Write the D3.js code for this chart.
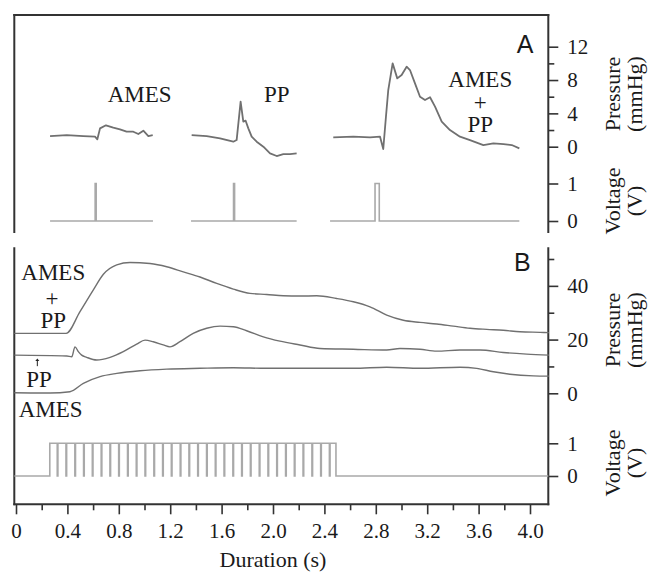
<!DOCTYPE html>
<html>
<head>
<meta charset="utf-8">
<script src="https://d3js.org/d3.v7.min.js"></script>
<style>
  body { margin: 0; background: #fff; }
  svg { display: block; }
  text { font-family: "Liberation Serif", "Times New Roman", serif; fill: #1a1a1a; }
</style>
</head>
<body>
<div id="chart"></div>
<script>
// ---- data (time in s, pressure in mmHg, voltage in V) ----

// panel A, three separate recordings laid side by side
const aAmesT = [0.265, 0.395, 0.524, 0.615, 0.633, 0.654, 0.7, 0.757, 0.809, 0.861, 0.913, 0.952, 0.991, 1.03, 1.064];
const aAmesP = [1.28, 1.4, 1.28, 1.2, 0.89, 2.2, 2.57, 2.28, 2.09, 1.8, 1.8, 1.52, 1.92, 1.28, 1.4];
const aPpT = [1.367, 1.484, 1.588, 1.691, 1.717, 1.748, 1.769, 1.787, 1.808, 1.834, 1.873, 1.925, 1.977, 2.029, 2.08, 2.132, 2.184];
const aPpP = [1.4, 1.28, 1.0, 0.6, 0.8, 5.4, 3.0, 3.12, 2.2, 1.2, 0.6, 0, -0.8, -1.12, -0.88, -0.88, -0.8];
const aBothT = [2.469, 2.625, 2.755, 2.833, 2.858, 2.879, 2.897, 2.931, 2.967, 3.001, 3.04, 3.066, 3.105, 3.144, 3.183, 3.222, 3.261, 3.313, 3.377, 3.455, 3.533, 3.637, 3.715, 3.794, 3.858, 3.917];
const aBothP = [1.13, 1.2, 1.13, 1.2, -0.28, 3.6, 6.8, 10.0, 8.2, 8.6, 9.6, 9.2, 7.6, 6.0, 5.6, 5.93, 4.8, 3.0, 2.0, 1.2, 0.8, 0.2, 0.4, 0.32, 0.2, -0.2];

// panel A stimulus: recording windows and single pulses
const aSegStart = [0.265, 1.362, 2.444];
const aSegEnd = [1.066, 2.184, 3.917];
const aPulseOn = [0.616, 1.693, 2.794];
const aPulseOff = [0.624, 1.701, 2.827];

// panel B pressure traces
const bBothT = [-0.013, 0.39, 0.498, 0.602, 0.68, 0.784, 0.887, 1.043, 1.173, 1.302, 1.432, 1.562, 1.691, 1.821, 1.951, 2.08, 2.21, 2.34, 2.495, 2.625, 2.755, 2.885, 3.014, 3.144, 3.274, 3.403, 3.533, 3.663, 3.792, 3.922, 4.078, 4.147];
const bBothP = [22.3, 22.3, 30.4, 38.5, 44.3, 47.8, 48.7, 48.3, 47.1, 45.2, 43.3, 40.9, 38.8, 37.2, 36.8, 36.3, 36.2, 36.3, 35.3, 34.1, 32.2, 29.1, 27.2, 26.4, 25.8, 25.0, 24.2, 23.8, 23.5, 22.9, 22.7, 22.6];
const bPpT = [-0.013, 0.395, 0.434, 0.459, 0.485, 0.511, 0.55, 0.628, 0.732, 0.835, 0.939, 1.004, 1.068, 1.146, 1.198, 1.276, 1.379, 1.484, 1.588, 1.691, 1.795, 1.925, 2.054, 2.21, 2.366, 2.625, 2.885, 2.988, 3.144, 3.274, 3.455, 3.611, 3.792, 3.974, 4.147];
const bPpP = [14.2, 13.9, 13.6, 17.3, 15.5, 14.2, 13.4, 12.4, 13.4, 15.5, 18.3, 19.8, 19.2, 18.0, 17.3, 19.2, 22.3, 24.2, 25.0, 24.8, 23.3, 21.0, 19.4, 18.0, 16.7, 16.4, 16.1, 16.7, 16.4, 15.7, 16.1, 16.1, 15.2, 14.6, 14.2];
const bAmesT = [-0.013, 0.265, 0.42, 0.524, 0.654, 0.784, 0.965, 1.173, 1.432, 1.691, 1.951, 2.21, 2.366, 2.625, 2.885, 3.144, 3.455, 3.585, 3.715, 3.844, 4.026, 4.147];
const bAmesP = [0.2, 0.1, 0.6, 3.7, 6.2, 7.4, 8.4, 9.0, 9.3, 9.5, 9.3, 9.3, 9.3, 9.3, 9.7, 9.3, 9.7, 9.3, 8.0, 7.1, 6.5, 6.4];

// panel B stimulus: train on/off and the short gaps between pulses
const bTrainOn = 0.263;
const bTrainOff = 2.49;
const bGaps = [0.321, 0.389, 0.458, 0.526, 0.594, 0.663, 0.731, 0.799, 0.868, 0.936, 1.004, 1.073,
  1.141, 1.209, 1.278, 1.346, 1.414, 1.483, 1.551, 1.619, 1.688, 1.756, 1.824, 1.893, 1.961, 2.029,
  2.098, 2.166, 2.234, 2.303, 2.371, 2.439];

// ticks
const xTicks = [0, 0.4, 0.8, 1.2, 1.6, 2.0, 2.4, 2.8, 3.2, 3.6, 4.0];
const xMinor = [0.2, 0.6, 1.0, 1.4, 1.8, 2.2, 2.6, 3.0, 3.4, 3.8];
const aPressTicks = [0, 4, 8, 12];
const aPressMinor = [2, 6, 10];
const bPressTicks = [0, 20, 40];
const bPressMinor = [10, 30, 50];
const voltTicks = [0, 1];

// ---- layout ----
const width = 648, height = 575;
const frame = { left: 14.3, right: 548.3, aTop: 15, aBottom: 232, bTop: 248.3, bBottom: 504.3 };
const frameColor = '#333';
const traceColor = '#707070';
const stimColor = '#a9a9a9';

const svg = d3.select('#chart').append('svg')
  .attr('width', width)
  .attr('height', height);

// scales
const x = d3.scaleLinear().domain([0, 4]).range([16, 530]);
const yA = d3.scaleLinear().domain([0, 12]).range([146.7, 46.7]);
const vA = d3.scaleLinear().domain([0, 1]).range([221, 183.5]);
const yB = d3.scaleLinear().domain([0, 50]).range([393.3, 259]);
const vB = d3.scaleLinear().domain([0, 1]).range([476, 443.3]);

// frame lines
const frameLines = [
  [frame.left, frame.aTop, frame.right, frame.aTop],
  [frame.left, frame.aTop, frame.left, frame.aBottom],
  [frame.right, frame.aTop, frame.right, frame.aBottom],
  [frame.left, frame.bTop, frame.left, frame.bBottom],
  [frame.right, frame.bTop, frame.right, frame.bBottom],
  [frame.left, frame.bBottom, frame.right, frame.bBottom]
];
svg.append('g').selectAll('line')
  .data(frameLines)
  .join('line')
  .attr('x1', d => d[0]).attr('y1', d => d[1])
  .attr('x2', d => d[2]).attr('y2', d => d[3])
  .attr('stroke', frameColor)
  .attr('stroke-width', 2)
  .attr('stroke-linecap', 'square');

// right side axes
function rightAxis(scale, major, minor) {
  const g = svg.append('g').attr('transform', `translate(${frame.right},0)`);
  if (minor) {
    g.append('g').call(d3.axisRight(scale).tickValues(minor).tickSize(6).tickFormat(''));
  }
  g.append('g').call(d3.axisRight(scale).tickValues(major).tickSize(10).tickPadding(9).tickFormat(d3.format('d')));
  g.selectAll('.domain').remove();
  g.selectAll('line').attr('stroke', frameColor).attr('stroke-width', 1.6);
  g.selectAll('text')
    .attr('fill', '#1a1a1a')
    .style('font-family', '"Liberation Serif", serif')
    .style('font-size', '21px');
}
rightAxis(yA, aPressTicks, aPressMinor);
rightAxis(vA, voltTicks);
rightAxis(yB, bPressTicks, bPressMinor);
rightAxis(vB, voltTicks);

// bottom axis
const xg = svg.append('g').attr('transform', `translate(0,${frame.bBottom})`);
xg.append('g').call(d3.axisBottom(x).tickValues(xMinor).tickSize(6).tickFormat(''));
xg.append('g').call(d3.axisBottom(x).tickValues(xTicks).tickSize(10).tickPadding(9)
  .tickFormat(d => d === 0 ? '0' : d3.format('.1f')(d)));
xg.selectAll('.domain').remove();
xg.selectAll('line').attr('stroke', frameColor).attr('stroke-width', 1.6);
xg.selectAll('text')
  .attr('fill', '#1a1a1a')
  .style('font-family', '"Liberation Serif", serif')
  .style('font-size', '21px');

svg.append('text')
  .attr('x', x(2.0))
  .attr('y', 567)
  .attr('text-anchor', 'middle')
  .style('font-size', '22px')
  .text('Duration (s)');

// rotated axis titles
function sideTitle(cy, lines) {
  svg.append('text')
    .attr('transform', `translate(620,${cy}) rotate(-90)`)
    .attr('text-anchor', 'middle')
    .style('font-size', '22px')
    .text(lines[0]);
  svg.append('text')
    .attr('transform', `translate(642,${cy}) rotate(-90)`)
    .attr('text-anchor', 'middle')
    .style('font-size', '22px')
    .text(lines[1]);
}
sideTitle(94, ['Pressure', '(mmHg)']);
sideTitle(201, ['Voltage', '(V)']);
sideTitle(330, ['Pressure', '(mmHg)']);
sideTitle(463, ['Voltage', '(V)']);

// panel letters
svg.append('text')
  .attr('x', x(4.026)).attr('y', yA(11.2))
  .attr('text-anchor', 'end')
  .style('font-family', '"Liberation Sans", Arial, sans-serif')
  .style('font-size', '25px')
  .text('A');
svg.append('text')
  .attr('x', x(4.005)).attr('y', yB(45.6))
  .attr('text-anchor', 'end')
  .style('font-family', '"Liberation Sans", Arial, sans-serif')
  .style('font-size', '25px')
  .text('B');

// ---- pressure traces ----
function trace(ts, ps, yScale, curve, w) {
  const pts = ts.map((t, i) => [t, ps[i]]);
  svg.append('path')
    .datum(pts)
    .attr('fill', 'none')
    .attr('stroke', traceColor)
    .attr('stroke-width', w)
    .attr('stroke-linejoin', 'round')
    .attr('d', d3.line().x(d => x(d[0])).y(d => yScale(d[1])).curve(curve));
}
trace(aAmesT, aAmesP, yA, d3.curveLinear, 1.8);
trace(aPpT, aPpP, yA, d3.curveLinear, 1.8);
trace(aBothT, aBothP, yA, d3.curveLinear, 1.8);
trace(bBothT, bBothP, yB, d3.curveMonotoneX, 1.4);
trace(bPpT, bPpP, yB, d3.curveMonotoneX, 1.4);
trace(bAmesT, bAmesP, yB, d3.curveMonotoneX, 1.4);

// ---- stimulus traces ----
const stimLine = (vScale) => d3.line().x(d => x(d[0])).y(d => vScale(d[1]));

aSegStart.forEach((s, i) => {
  const pts = [[s, 0], [aPulseOn[i], 0], [aPulseOn[i], 1], [aPulseOff[i], 1], [aPulseOff[i], 0], [aSegEnd[i], 0]];
  svg.append('path')
    .datum(pts)
    .attr('fill', 'none')
    .attr('stroke', stimColor)
    .attr('stroke-width', 1.6)
    .attr('d', stimLine(vA));
});

const trainPts = [[-0.013, 0], [bTrainOn, 0], [bTrainOn, 1]];
bGaps.forEach(g => {
  trainPts.push([g, 1], [g, 0], [g + 0.005, 0], [g + 0.005, 1]);
});
trainPts.push([bTrainOff, 1], [bTrainOff, 0], [x.invert(frame.right), 0]);
svg.append('path')
  .datum(trainPts)
  .attr('fill', 'none')
  .attr('stroke', stimColor)
  .attr('stroke-width', 1.6)
  .attr('d', stimLine(vB));

// ---- trace labels ----
function label(t, p, yScale, txt) {
  svg.append('text')
    .attr('x', x(t)).attr('y', yScale(p))
    .attr('text-anchor', 'middle')
    .style('font-size', '23px')
    .text(txt);
}
label(0.962, 5.33, yA, 'AMES');
label(2.029, 5.33, yA, 'PP');
label(3.613, 7.13, yA, 'AMES');
label(3.613, 4.4, yA, '+');
label(3.613, 1.8, yA, 'PP');

label(0.29, 42.1, yB, 'AMES');
label(0.28, 32.5, yB, '+');
label(0.29, 24.2, yB, 'PP');
label(0.18, 2.45, yB, 'PP');
label(0.27, -8.7, yB, 'AMES');

// small arrow marking the PP pulse
svg.append('line')
  .attr('x1', x(0.166)).attr('x2', x(0.166))
  .attr('y1', yB(10.1)).attr('y2', yB(12.2))
  .attr('stroke', '#222').attr('stroke-width', 1);
svg.append('path')
  .attr('d', `M${x(0.166) - 2},${yB(12.0)} L${x(0.166) + 2},${yB(12.0)} L${x(0.166)},${yB(13.0)} Z`)
  .attr('fill', '#222');
</script>
</body>
</html>
